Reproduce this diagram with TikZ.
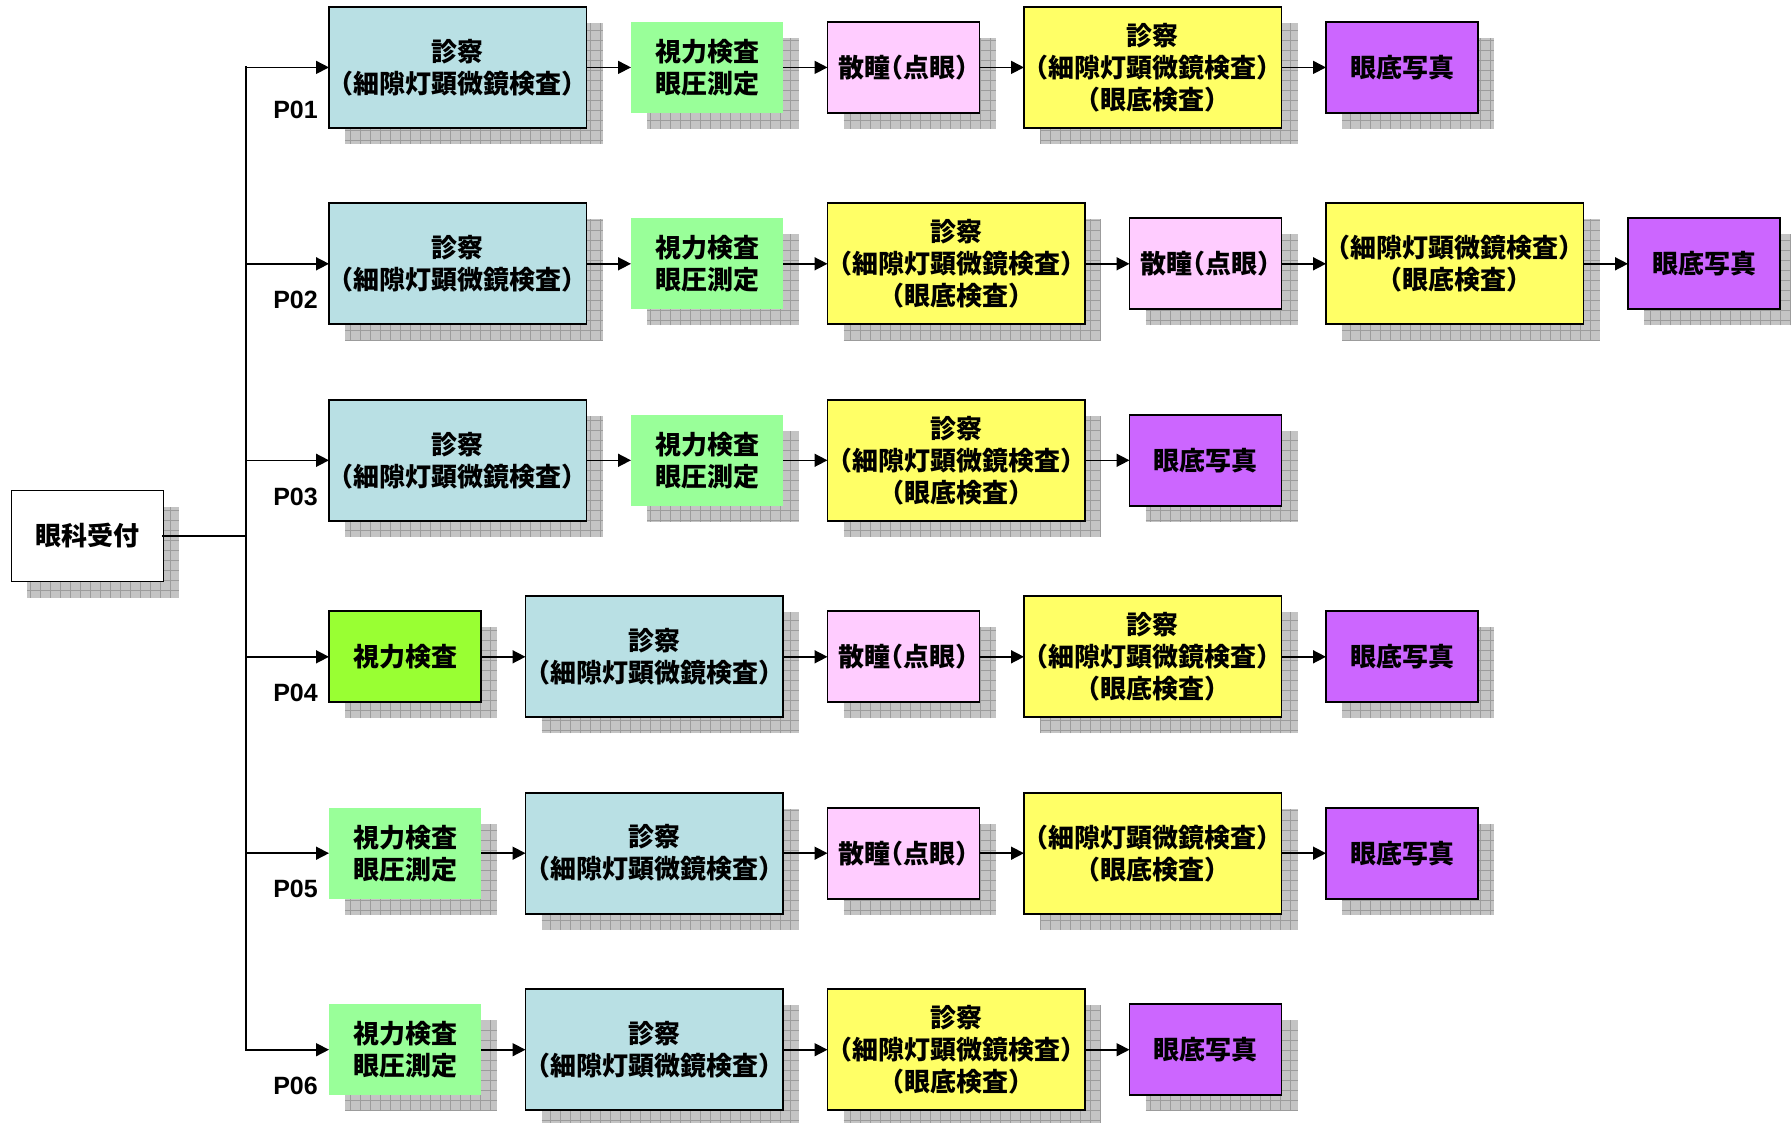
\documentclass[tikz,border=0pt]{standalone}
\usepackage{fontspec}
\newfontfamily\jp{Noto Sans CJK JP}[RawFeature=+halt]
\newfontfamily\lsans{Liberation Sans}
\usetikzlibrary{arrows.meta}
\pgfdeclarelayer{bg}\pgfsetlayers{bg,main}
\definecolor{cyanbox}{HTML}{B9E0E4}
\definecolor{greenbox}{HTML}{99FF99}
\definecolor{limebox}{HTML}{99FF33}
\definecolor{pinkbox}{HTML}{FFCCFF}
\definecolor{yellowbox}{HTML}{FFFF66}
\definecolor{purplebox}{HTML}{CC66FF}
\definecolor{shadowfill}{HTML}{C4C4C4}
\definecolor{shadowline}{HTML}{9C9C9C}
\tikzset{
  stepbox/.style={draw=black, line width=1.8pt, align=center, inner sep=0pt, outer sep=0pt,
    font=\jp\bfseries\fontsize{26}{32}\selectfont, text=black, anchor=west},
  big/.style={stepbox, minimum width=257.5pt, minimum height=121pt},
  small/.style={stepbox, minimum width=152pt, minimum height=91pt},
  exam/.style={big, fill=cyanbox},
  vis/.style={small, fill=greenbox, draw=none},
  visb/.style={small, fill=limebox},
  mydr/.style={small, fill=pinkbox},
  fundus/.style={big, fill=yellowbox},
  photo/.style={small, fill=purplebox},
  plabel/.style={font=\lsans\bfseries\fontsize{25}{28}\selectfont, anchor=east, inner sep=0pt},
  conn/.style={line width=1.6pt, -{Triangle[length=13pt,width=13pt]}},
  busline/.style={line width=2.2pt, line cap=rect},
}
\begin{document}
\begin{tikzpicture}[x=1pt,y=-1pt]
\useasboundingbox (0,0) rectangle (1791,1122);
\begin{pgfonlayer}{bg}
\fill[white] (0,0) rectangle (1791,1122);
\end{pgfonlayer}

% reception
\node[small, fill=white] (L) at (11.4,536) {眼科受付};
\coordinate (bus) at (246,536);

% row 1
\node[exam]   (a1) at (329,67.4)    {診察\\（細隙灯顕微鏡検査）};
\node[vis]    (b1) at (631,67.4)    {視力検査\\眼圧測定};
\node[mydr]   (c1) at (827.5,67.4)  {散瞳（点眼）};
\node[fundus] (d1) at (1024,67.4)   {診察\\（細隙灯顕微鏡検査）\\（眼底検査）};
\node[photo]  (e1) at (1326,67.4)   {眼底写真};
% row 2
\node[exam]   (a2) at (329,263.8)   {診察\\（細隙灯顕微鏡検査）};
\node[vis]    (b2) at (631,263.8)   {視力検査\\眼圧測定};
\node[fundus] (c2) at (827.5,263.8) {診察\\（細隙灯顕微鏡検査）\\（眼底検査）};
\node[mydr]   (d2) at (1129.5,263.8){散瞳（点眼）};
\node[fundus] (e2) at (1326,263.8)  {（細隙灯顕微鏡検査）\\（眼底検査）};
\node[photo]  (f2) at (1628,263.8)  {眼底写真};
% row 3
\node[exam]   (a3) at (329,460.3)   {診察\\（細隙灯顕微鏡検査）};
\node[vis]    (b3) at (631,460.3)   {視力検査\\眼圧測定};
\node[fundus] (c3) at (827.5,460.3) {診察\\（細隙灯顕微鏡検査）\\（眼底検査）};
\node[photo]  (d3) at (1129.5,460.3){眼底写真};
% row 4
\node[visb]   (a4) at (329,656.8)   {視力検査};
\node[exam]   (b4) at (525.5,656.8) {診察\\（細隙灯顕微鏡検査）};
\node[mydr]   (c4) at (827.5,656.8) {散瞳（点眼）};
\node[fundus] (d4) at (1024,656.8)  {診察\\（細隙灯顕微鏡検査）\\（眼底検査）};
\node[photo]  (e4) at (1326,656.8)  {眼底写真};
% row 5
\node[vis]    (a5) at (329,853.2)   {視力検査\\眼圧測定};
\node[exam]   (b5) at (525.5,853.2) {診察\\（細隙灯顕微鏡検査）};
\node[mydr]   (c5) at (827.5,853.2) {散瞳（点眼）};
\node[fundus] (d5) at (1024,853.2)  {（細隙灯顕微鏡検査）\\（眼底検査）};
\node[photo]  (e5) at (1326,853.2)  {眼底写真};
% row 6
\node[vis]    (a6) at (329,1049.7)  {視力検査\\眼圧測定};
\node[exam]   (b6) at (525.5,1049.7){診察\\（細隙灯顕微鏡検査）};
\node[fundus] (c6) at (827.5,1049.7){診察\\（細隙灯顕微鏡検査）\\（眼底検査）};
\node[photo]  (d6) at (1129.5,1049.7){眼底写真};

% shadows
\begin{pgfonlayer}{bg}
\foreach \n in {L,a1,b1,c1,d1,e1,a2,b2,c2,d2,e2,f2,a3,b3,c3,d3,a4,b4,c4,d4,e4,a5,b5,c5,d5,e5,a6,b6,c6,d6}{
  \fill[shadowfill] ([shift={(16,16)}]\n.north west) rectangle ([shift={(16,16)}]\n.south east);
  \draw[shadowline, line width=0.7pt, step=10pt] ([shift={(16,16)}]\n.north west) grid ([shift={(16,16)}]\n.south east);
}
\end{pgfonlayer}

% path labels
\node[plabel] (p1) at (318,110) {P01};
\node[plabel] (p2) at (318,299.8) {P02};
\node[plabel] (p3) at (318,497.3) {P03};
\node[plabel] (p4) at (318,692.8) {P04};
\node[plabel] (p5) at (318,889.2) {P05};
\node[plabel] (p6) at (318,1085.7) {P06};

% bus
\draw[busline] (L.east) -- (bus);
\draw[busline] (bus |- a1.west) -- (bus |- a6.west);
\foreach \n in {a1,a2,a3,a4,a5,a6}{
  \draw[conn] (bus |- \n.west) -- (\n.west);
}

% chain connectors
\draw[conn] (a1.east) -- (b1.west);
\draw[conn] (b1.east) -- (c1.west);
\draw[conn] (c1.east) -- (d1.west);
\draw[conn] (d1.east) -- (e1.west);
\draw[conn] (a2.east) -- (b2.west);
\draw[conn] (b2.east) -- (c2.west);
\draw[conn] (c2.east) -- (d2.west);
\draw[conn] (d2.east) -- (e2.west);
\draw[conn] (e2.east) -- (f2.west);
\draw[conn] (a3.east) -- (b3.west);
\draw[conn] (b3.east) -- (c3.west);
\draw[conn] (c3.east) -- (d3.west);
\draw[conn] (a4.east) -- (b4.west);
\draw[conn] (b4.east) -- (c4.west);
\draw[conn] (c4.east) -- (d4.west);
\draw[conn] (d4.east) -- (e4.west);
\draw[conn] (a5.east) -- (b5.west);
\draw[conn] (b5.east) -- (c5.west);
\draw[conn] (c5.east) -- (d5.west);
\draw[conn] (d5.east) -- (e5.west);
\draw[conn] (a6.east) -- (b6.west);
\draw[conn] (b6.east) -- (c6.west);
\draw[conn] (c6.east) -- (d6.west);
\end{tikzpicture}
\end{document}
